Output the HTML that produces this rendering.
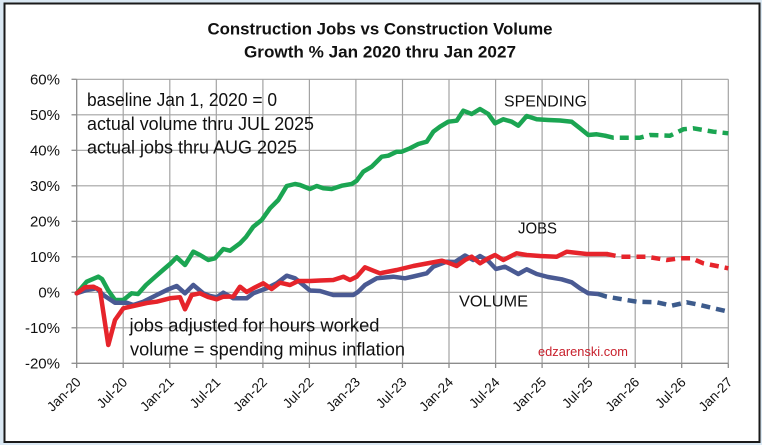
<!DOCTYPE html>
<html>
<head>
<meta charset="utf-8">
<style>
  html, body { margin:0; padding:0; }
  body { width:762px; height:445px; background:#dae8f3; overflow:hidden; }
  svg { display:block; }
  text { font-family: "Liberation Sans", Arial, sans-serif; fill:#111; }
</style>
</head>
<body>
<svg width="762" height="445" viewBox="0 0 762 445" xmlns="http://www.w3.org/2000/svg">
  <!-- frame -->
  <rect x="4.5" y="3.5" width="755" height="438.5" fill="#ffffff" stroke="#1a1a1a" stroke-width="2"/>

  <!-- title -->
  <text x="380" y="34.3" text-anchor="middle" font-size="16.5" font-weight="bold" textLength="345" lengthAdjust="spacingAndGlyphs">Construction Jobs vs Construction Volume</text>
  <text x="380" y="57.3" text-anchor="middle" font-size="16.5" font-weight="bold" textLength="272" lengthAdjust="spacingAndGlyphs">Growth % Jan 2020 thru Jan 2027</text>

  <!-- gridlines -->
  <g stroke="#a3a3a3" stroke-width="1.2">
    <line x1="76.7" y1="79.3" x2="728.3" y2="79.3"/>
    <line x1="76.7" y1="114.8" x2="728.3" y2="114.8"/>
    <line x1="76.7" y1="150.3" x2="728.3" y2="150.3"/>
    <line x1="76.7" y1="185.8" x2="728.3" y2="185.8"/>
    <line x1="76.7" y1="221.3" x2="728.3" y2="221.3"/>
    <line x1="76.7" y1="256.8" x2="728.3" y2="256.8"/>
    <line x1="76.7" y1="292.3" x2="728.3" y2="292.3"/>
    <line x1="76.7" y1="327.8" x2="728.3" y2="327.8"/>

    <line x1="123.2" y1="79.3" x2="123.2" y2="363.3"/>
    <line x1="169.8" y1="79.3" x2="169.8" y2="363.3"/>
    <line x1="216.3" y1="79.3" x2="216.3" y2="363.3"/>
    <line x1="262.9" y1="79.3" x2="262.9" y2="363.3"/>
    <line x1="309.4" y1="79.3" x2="309.4" y2="363.3"/>
    <line x1="355.9" y1="79.3" x2="355.9" y2="363.3"/>
    <line x1="402.5" y1="79.3" x2="402.5" y2="363.3"/>
    <line x1="449.0" y1="79.3" x2="449.0" y2="363.3"/>
    <line x1="495.6" y1="79.3" x2="495.6" y2="363.3"/>
    <line x1="542.1" y1="79.3" x2="542.1" y2="363.3"/>
    <line x1="588.6" y1="79.3" x2="588.6" y2="363.3"/>
    <line x1="635.2" y1="79.3" x2="635.2" y2="363.3"/>
    <line x1="681.7" y1="79.3" x2="681.7" y2="363.3"/>
    <line x1="728.3" y1="79.3" x2="728.3" y2="363.3"/>
  </g>

  <!-- axes -->
  <g stroke="#8c8c8c" stroke-width="1.3">
    <line x1="76.7" y1="79.3" x2="76.7" y2="363.3"/>
    <line x1="76.7" y1="363.3" x2="728.3" y2="363.3"/>
    <!-- y ticks -->
    <line x1="71.5" y1="79.3" x2="76.7" y2="79.3"/>
    <line x1="71.5" y1="114.8" x2="76.7" y2="114.8"/>
    <line x1="71.5" y1="150.3" x2="76.7" y2="150.3"/>
    <line x1="71.5" y1="185.8" x2="76.7" y2="185.8"/>
    <line x1="71.5" y1="221.3" x2="76.7" y2="221.3"/>
    <line x1="71.5" y1="256.8" x2="76.7" y2="256.8"/>
    <line x1="71.5" y1="292.3" x2="76.7" y2="292.3"/>
    <line x1="71.5" y1="327.8" x2="76.7" y2="327.8"/>
    <line x1="71.5" y1="363.3" x2="76.7" y2="363.3"/>
    <!-- x ticks -->
    <line x1="76.7" y1="363.3" x2="76.7" y2="368"/>
    <line x1="123.2" y1="363.3" x2="123.2" y2="368"/>
    <line x1="169.8" y1="363.3" x2="169.8" y2="368"/>
    <line x1="216.3" y1="363.3" x2="216.3" y2="368"/>
    <line x1="262.9" y1="363.3" x2="262.9" y2="368"/>
    <line x1="309.4" y1="363.3" x2="309.4" y2="368"/>
    <line x1="355.9" y1="363.3" x2="355.9" y2="368"/>
    <line x1="402.5" y1="363.3" x2="402.5" y2="368"/>
    <line x1="449.0" y1="363.3" x2="449.0" y2="368"/>
    <line x1="495.6" y1="363.3" x2="495.6" y2="368"/>
    <line x1="542.1" y1="363.3" x2="542.1" y2="368"/>
    <line x1="588.6" y1="363.3" x2="588.6" y2="368"/>
    <line x1="635.2" y1="363.3" x2="635.2" y2="368"/>
    <line x1="681.7" y1="363.3" x2="681.7" y2="368"/>
    <line x1="728.3" y1="363.3" x2="728.3" y2="368"/>
  </g>

  <!-- y labels -->
  <g font-size="15" text-anchor="end">
    <text x="60" y="84.5">60%</text>
    <text x="60" y="120">50%</text>
    <text x="60" y="155.5">40%</text>
    <text x="60" y="191">30%</text>
    <text x="60" y="226.5">20%</text>
    <text x="60" y="262">10%</text>
    <text x="60" y="297.5">0%</text>
    <text x="60" y="333">-10%</text>
    <text x="60" y="368.5">-20%</text>
  </g>

  <!-- x labels -->
  <g font-size="13.5" text-anchor="end">
    <text transform="translate(81.7,383) rotate(-45)">Jan-20</text>
    <text transform="translate(128.2,383) rotate(-45)">Jul-20</text>
    <text transform="translate(174.8,383) rotate(-45)">Jan-21</text>
    <text transform="translate(221.3,383) rotate(-45)">Jul-21</text>
    <text transform="translate(267.9,383) rotate(-45)">Jan-22</text>
    <text transform="translate(314.4,383) rotate(-45)">Jul-22</text>
    <text transform="translate(360.9,383) rotate(-45)">Jan-23</text>
    <text transform="translate(407.5,383) rotate(-45)">Jul-23</text>
    <text transform="translate(454.0,383) rotate(-45)">Jan-24</text>
    <text transform="translate(500.6,383) rotate(-45)">Jul-24</text>
    <text transform="translate(547.1,383) rotate(-45)">Jan-25</text>
    <text transform="translate(593.6,383) rotate(-45)">Jul-25</text>
    <text transform="translate(640.2,383) rotate(-45)">Jan-26</text>
    <text transform="translate(686.7,383) rotate(-45)">Jul-26</text>
    <text transform="translate(733.3,383) rotate(-45)">Jan-27</text>
  </g>

  <!-- annotations -->
  <g font-size="18">
    <text x="87" y="106" textLength="190" lengthAdjust="spacingAndGlyphs">baseline Jan 1, 2020 = 0</text>
    <text x="87" y="130" textLength="227" lengthAdjust="spacingAndGlyphs">actual volume thru JUL 2025</text>
    <text x="87" y="153.5" textLength="210" lengthAdjust="spacingAndGlyphs">actual jobs thru AUG 2025</text>
    <text x="129.5" y="331.7" textLength="250" lengthAdjust="spacingAndGlyphs">jobs adjusted for hours worked</text>
    <text x="130" y="355.3" textLength="275" lengthAdjust="spacingAndGlyphs">volume = spending minus inflation</text>
  </g>
  <g font-size="16">
    <text x="504" y="106.7" textLength="83" lengthAdjust="spacingAndGlyphs">SPENDING</text>
    <text x="518" y="233.3" textLength="39" lengthAdjust="spacingAndGlyphs">JOBS</text>
    <text x="459" y="306.7" textLength="69" lengthAdjust="spacingAndGlyphs">VOLUME</text>
  </g>
  <text x="538" y="356" font-size="13" style="fill:#c8202c" textLength="90" lengthAdjust="spacingAndGlyphs">edzarenski.com</text>

  <!-- series -->
  <g fill="none" stroke-width="4.5" stroke-linejoin="round" stroke-linecap="round">
    <!-- SPENDING (green) -->
    <polyline stroke="#1ba552" points="76.7,293.3 86.7,281.7 98.3,276.7 102,279 108,290 115,300 123.3,300 131.7,293.3 138,294 146,285 155,277 163,270 170,264 176.7,257.3 185,265 193.3,251.7 200,255 208.3,260 215,258.3 223.3,249 230,250.7 240,243.3 246,237 253.3,226.7 261.7,220 270,208.3 278.3,200 286.7,186 295,184 300,185 310,189 316.7,186 323.3,188.3 331.7,189 341.7,185.7 351.7,184 356.7,180.7 363.3,171.7 371.7,166.7 381.7,156.7 388.3,155.7 396.7,151.7 401.7,151.7 410,148.3 418.3,144 426.7,141.7 433.3,131.7 440,126.7 448.3,121.7 456.7,120.7 463.3,110.7 471.7,114 480,109 488.3,114 495,123.3 503.3,119.3 511.7,121.7 518.3,125.7 526.7,116 536.7,119.3 548.3,120 560,120.5 571.7,121.7 580,128.3 588.3,135 596.7,134.3 605,135.7"/>
    <polyline stroke="#1ba552" stroke-dasharray="9 6" stroke-linecap="butt" points="605,135.7 613.3,137.7 640,137.7 650,135 670,135.7 683.3,129.3 693.3,128.3 713.3,131.7 728.3,133.3"/>

    <!-- VOLUME (blue) -->
    <polyline stroke="#4a5a93" points="76.7,293.3 86.7,290 96.7,288.3 103.3,295 115,302.7 126.7,302.7 133.3,305 143.3,301.7 156.7,295 168.3,289.3 176.7,286 185,293.3 193.3,285 203.3,293.3 210,296 216.7,297.3 223.3,292.7 233.3,298.3 246.7,298.3 253.3,293.3 266.7,288.3 276.7,283.3 286.7,275.7 295,278.3 303.3,285 310,290.5 320,291 333.3,295 353.3,295 358.3,291.7 365,285 376.7,278.3 393.3,276.7 405,278.3 413.3,276.5 426.7,273.3 433.3,266.7 446.7,261.7 455,262 465,255.5 473.3,260 480,256 488.3,261 496,269 505,266.7 518.3,274 526.7,269.3 536.7,274 548,277 561.7,279.3 571.7,282.3 580,288.3 588.3,293.3 598.3,294"/>
    <polyline stroke="#3d5b8c" stroke-dasharray="9 6" stroke-linecap="butt" points="598.3,294 606.7,296.7 636.7,301.7 656.7,302.3 671.7,305.7 686.7,302.3 700,305 728.3,311.7"/>

    <!-- JOBS (red) -->
    <polyline stroke="#e6242b" points="76.7,293.3 85,287.3 93.3,286.7 100,290 103,310 108.3,345 115,320 123.3,308.3 133.3,306 146.7,303 156.7,301.7 170,298.3 180,297.3 185,309.3 191.7,295 200,293.3 208,297 216.7,299.3 223.3,296.7 233.3,296.5 240,286.7 246.7,292 253.3,288.3 263.3,283.3 271.7,289 280,282.7 290,285 298.3,281 310,281 320,280.5 333.3,280 343.3,276.7 350,280 356.7,276.7 365,267.3 373.3,270.7 380,273.3 396.7,270 413.3,266 426.7,263.5 441.7,260.7 448.3,262.7 456.7,266 465,260 471.7,256.7 480,263.3 488.3,258.3 495,255 503.3,260 516.7,253.3 526.7,255 540,256 556.7,256.7 566.7,251.7 586.7,254 606.7,254"/>
    <polyline stroke="#e6242b" stroke-dasharray="9 6" stroke-linecap="butt" points="606.7,254 620,256.7 646.7,256.7 666.7,260 680,258.3 691.7,258.3 703.3,263.3 728.3,268.3"/>
  </g>
</svg>
</body>
</html>
